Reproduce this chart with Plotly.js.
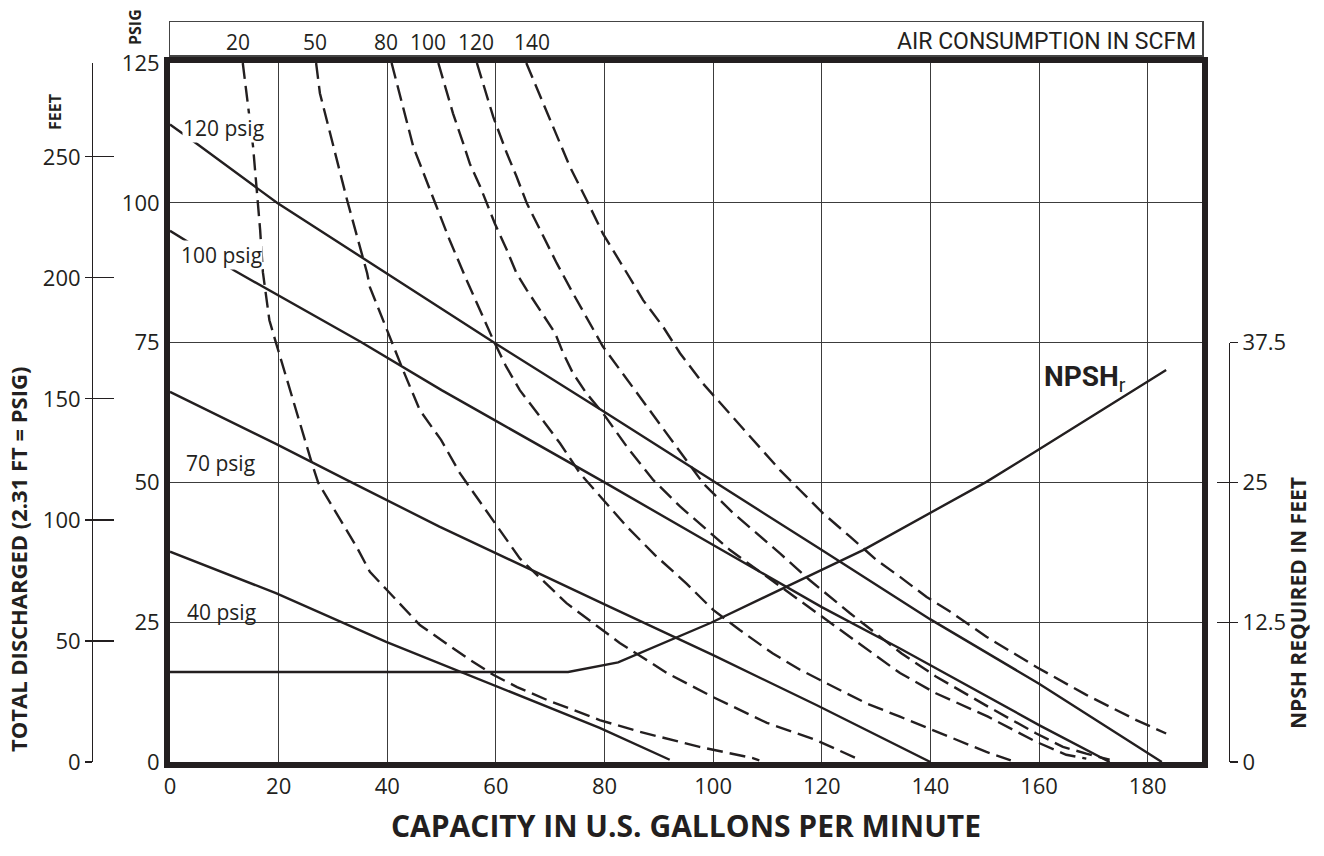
<!DOCTYPE html>
<html>
<head>
<meta charset="utf-8">
<script src="https://cdn.plot.ly/plotly-3.0.1.min.js"></script>
<style>html,body{margin:0;padding:0;background:#fff;}#chart{width:1324px;height:856px;}</style>
</head>
<body>
<div id="chart"></div>
<script>
// ---------- DATA ----------
const xTickVals = [0, 20, 40, 60, 80, 100, 120, 140, 160, 180];
const psigTickVals = [0, 25, 50, 75, 100, 125];
const feetTickVals = [0, 50, 100, 150, 200, 250];
const feetInnerTickVals = [0, 50, 100, 150, 200, 250, 288.75];
const npshTickVals = [0, 12.5, 25, 37.5];
const npshTickText = ['0', '12.5', '25', '37.5'];

// solid head curves (psig)
const psig120X = [0, 5, 19.7, 40, 60, 80, 100, 120, 140, 160, 182.6];
const psig120Y = [114, 110.5, 100, 87.3, 74.8, 62.6, 50.3, 37.9, 25.5, 14, 0];
const psig100X = [0, 12, 35, 50, 60, 80, 100, 120, 134.4, 150, 160, 173];
const psig100Y = [95, 87.8, 75.2, 66.5, 61, 50, 38.8, 27.7, 20.3, 12, 6.6, 0];
const psig70X = [0, 19.5, 32.6, 49.6, 80, 100, 119, 140];
const psig70Y = [66.2, 56.9, 50.4, 42.1, 28.2, 19.1, 10.2, 0];
const psig40X = [0, 19.5, 39.8, 59.6, 79.1, 92];
const psig40Y = [37.6, 30.2, 21.5, 13.8, 6.1, 0.4];

// dashed air consumption curves (SCFM)
const scfm20X = [13.4, 15.3, 16.6, 17.1, 18.3, 19.5, 26.1, 27.3, 34.4, 36.8, 39.9, 46, 54.7, 59.5, 63.9, 69.4, 79.1, 86.5, 97.5, 107.3, 108.5];
const scfm20Y = [125, 110, 95.1, 87.6, 79, 75, 53.5, 49.9, 38.4, 34, 30.8, 24.5, 18.6, 15.6, 13.4, 11.1, 7.5, 5.4, 2.7, 0.7, 0.3];
const scfm50X = [26.9, 27.6, 32.6, 36.3, 36.8, 39.9, 42.9, 46, 49.9, 53.4, 57.7, 60.7, 64.4, 73, 79.1, 82.8, 91.5, 100, 109.9, 119, 127];
const scfm50Y = [125, 119.6, 100.5, 87.4, 84.9, 77.3, 70.1, 62.9, 57.6, 51.6, 45.6, 41.5, 36.4, 28.4, 24, 21.3, 15.9, 11.6, 7, 3.9, 0.4];
const scfm80X = [40.8, 44.8, 48.8, 51.5, 54.6, 57, 59.5, 61.9, 64.4, 68.1, 71.8, 75.5, 79.8, 84.1, 89.3, 95.1, 100, 104.9, 111, 116, 119.6, 128.2, 134.4, 140.5, 150.3, 154.8];
const scfm80Y = [125, 110, 100, 93.3, 86.2, 80.8, 75.5, 70.7, 66.5, 61.8, 57, 51.6, 46.9, 42.1, 37, 31.9, 27.2, 23.6, 19.4, 16.5, 14.7, 10.5, 8.1, 5.7, 1.8, 0.3];
const scfm100X = [49.4, 52.1, 54, 55.2, 57.1, 58.6, 59.8, 62, 63.8, 65.7, 68.1, 70.9, 72.4, 74.2, 76.7, 79.7, 84.1, 89, 93.9, 98.8, 103.1, 134.4, 141, 150.6, 159.5, 165, 168.7];
const scfm100Y = [125, 116, 110.6, 107, 102.9, 99.3, 96.3, 91.6, 87.4, 84.4, 80.8, 76.7, 73.1, 69.5, 65.9, 62.4, 56.4, 50.4, 45.7, 41.5, 37.9, 15.9, 12.3, 8.1, 3.6, 1.3, 0.6];
const scfm120X = [56.5, 59.5, 62, 63.8, 65.7, 68.1, 71.2, 74.2, 77.3, 79.7, 98.2, 103.7, 112.3, 117.8, 125.2, 130.7, 134.7, 141, 150.6, 159.5, 164.4, 168.7, 173];
const scfm120Y = [125, 115.4, 108.9, 104.7, 99.9, 95.1, 89.2, 83.8, 78.4, 74.3, 49.8, 44.5, 37.3, 32.5, 26.6, 22.4, 19.4, 15.3, 9.9, 5.1, 2.7, 1.5, 0.4];
const scfm140X = [65.6, 68.7, 71.2, 73.6, 76.7, 79.7, 83.4, 87.1, 90.8, 93.9, 98.1, 112.3, 116, 120.2, 125.2, 130.1, 134.4, 139.3, 143.6, 150.3, 159.5, 168.7, 177.9, 183.4];
const scfm140Y = [125, 117.8, 111.9, 106.5, 100.5, 94.5, 88.6, 82.6, 77.8, 73.1, 67.7, 52.2, 48.6, 44.5, 40.3, 36.1, 33.1, 29.5, 26.9, 22.4, 17, 12, 7.5, 5.1];

// NPSH required (feet, right axis)
const npshX = [0, 73.3, 82.5, 99.6, 127.6, 139.9, 150.3, 159.8, 183.4];
const npshY = [8.05, 8.05, 8.9, 12.45, 18.95, 22.25, 25.05, 27.9, 35.05];

// labels
const psigLabels = ['120 psig', '100 psig', '70 psig', '40 psig'];
const psigLabelX = [2.3, 1.8, 2.8, 2.9];
const psigLabelY = [113.4, 90.6, 53.5, 26.8];
const psigLabelBg = ['#ffffff', '#ffffff', 'rgba(0,0,0,0)', 'rgba(0,0,0,0)'];
const scfmLabels = ['20', '50', '80', '100', '120', '140'];
const scfmLabelX = [12.5, 26.7, 39.8, 47.5, 56.3, 66.6];

// ---------- CHART ----------
const INK = '#231f20';
const GRID = '#3c3c3c';
const solid = {color: INK, width: 2.4};
const dashed = {color: INK, width: 2.4, dash: '16px,7px'};
function line(x, y, style, xa, ya) {
  return {type: 'scatter', mode: 'lines', x: x, y: y, line: style, xaxis: xa || 'x', yaxis: ya || 'y', hoverinfo: 'skip', showlegend: false};
}
const traces = [
  line(scfm20X, scfm20Y, dashed), line(scfm50X, scfm50Y, dashed), line(scfm80X, scfm80Y, dashed),
  line(scfm100X, scfm100Y, dashed), line(scfm120X, scfm120Y, dashed), line(scfm140X, scfm140Y, dashed),
  line(psig120X, psig120Y, solid), line(psig100X, psig100Y, solid), line(psig70X, psig70Y, solid), line(psig40X, psig40Y, solid),
  line(npshX, npshY, solid, 'x3', 'y4'),
  {type: 'scatter', x: [], y: [], xaxis: 'x3', yaxis: 'y2', showlegend: false},
  {type: 'scatter', x: [], y: [], xaxis: 'x3', yaxis: 'y3', showlegend: false},
  {type: 'scatter', x: [], y: [], xaxis: 'x3', yaxis: 'y5', showlegend: false},
  {type: 'scatter', x: [], y: [], xaxis: 'x2', yaxis: 'y6', showlegend: false}
];

const L = 10, R = 10, T = 20, B = 94, W = 1324, H = 856;
const pw = W - L - R, ph = H - T - B;
const px2fx = p => (p - L) / pw;
const py2fy = p => (H - B - p) / ph;
const xDom = [px2fx(170), px2fx(1202)];
const yTop = py2fy(63);
const tickFont = {family: 'Open Sans', size: 22, color: INK};

const annotations = [];
psigLabels.forEach((t, i) => annotations.push({
  text: t, x: psigLabelX[i], y: psigLabelY[i], xref: 'x', yref: 'y', xanchor: 'left', yanchor: 'middle',
  showarrow: false, bgcolor: psigLabelBg[i], borderpad: 0, font: {family: 'Open Sans', size: 21, color: INK}
}));
scfmLabels.forEach((t, i) => annotations.push({
  text: t, x: scfmLabelX[i], y: 0.4, xref: 'x2', yref: 'y6', xanchor: 'center', yanchor: 'middle',
  showarrow: false, font: {family: 'Open Sans', size: 21, color: INK}
}));
annotations.push({text: 'AIR CONSUMPTION IN SCFM', x: 1, xref: 'x2 domain', y: 0.42, yref: 'y6', xanchor: 'right', yanchor: 'middle', xshift: -4,
  showarrow: false, font: {family: 'Roboto', size: 23, color: INK}});
annotations.push({text: '<b>NPSH</b><sub>r</sub>', x: 160.5, y: 68.5, xref: 'x', yref: 'y', xanchor: 'left', yanchor: 'middle',
  showarrow: false, font: {family: 'Roboto', size: 28, color: INK}});
annotations.push({text: '<b>TOTAL DISCHARGED (2.31 FT = PSIG)</b>', x: px2fx(18), y: py2fy(560), xref: 'paper', yref: 'paper',
  textangle: -90, showarrow: false, xanchor: 'center', yanchor: 'middle', font: {family: 'Open Sans', size: 22, color: INK}});
annotations.push({text: '<b>NPSH REQUIRED IN FEET</b>', x: px2fx(1298), y: py2fy(603), xref: 'paper', yref: 'paper',
  textangle: -90, showarrow: false, xanchor: 'center', yanchor: 'middle', font: {family: 'Open Sans', size: 21, color: INK}});
annotations.push({text: '<b>FEET</b>', x: px2fx(55), y: py2fy(112), xref: 'paper', yref: 'paper',
  textangle: -90, showarrow: false, xanchor: 'center', yanchor: 'middle', font: {family: 'Open Sans', size: 16, color: INK}});
annotations.push({text: '<b>PSIG</b>', x: px2fx(135), y: py2fy(27), xref: 'paper', yref: 'paper',
  textangle: -90, showarrow: false, xanchor: 'center', yanchor: 'middle', font: {family: 'Open Sans', size: 16, color: INK}});

const layout = {
  width: W, height: H,
  margin: {l: L, r: R, t: T, b: B, pad: 0},
  paper_bgcolor: '#ffffff', plot_bgcolor: 'rgba(0,0,0,0)',
  font: {family: 'Open Sans', color: INK},
  showlegend: false,
  xaxis: {domain: xDom, range: [0, 190], tickvals: xTickVals, ticks: '', showgrid: true, gridcolor: GRID, gridwidth: 1,
    zeroline: false, showline: true, linewidth: 6, linecolor: INK, mirror: true, tickfont: tickFont, anchor: 'y',
    title: {text: '<b>CAPACITY IN U.S. GALLONS PER MINUTE</b>', font: {family: 'Open Sans', size: 30, color: INK}, standoff: 19}},
  yaxis: {domain: [0, yTop], range: [0, 125], tickvals: psigTickVals, ticks: '', showgrid: true, gridcolor: GRID, gridwidth: 1,
    zeroline: false, showline: true, linewidth: 6, linecolor: INK, mirror: true, tickfont: tickFont, anchor: 'x'},
  xaxis3: {domain: xDom, range: [0, 190], anchor: 'y4', visible: false, showgrid: false, zeroline: false},
  yaxis2: {domain: [0, yTop], range: [0, 288.75], anchor: 'free', position: px2fx(92), side: 'left',
    tickvals: feetTickVals, ticks: 'outside', ticklen: 7, tickwidth: 1.2, tickcolor: INK,
    showline: true, linewidth: 1.2, linecolor: INK, showgrid: false, zeroline: false, tickfont: tickFont},
  yaxis3: {overlaying: 'y2', range: [0, 288.75], anchor: 'free', position: px2fx(92), side: 'left',
    tickvals: feetInnerTickVals, ticks: 'inside', ticklen: 21, tickwidth: 1.2, tickcolor: INK, showticklabels: false,
    showline: false, showgrid: false, zeroline: false},
  yaxis4: {domain: [0, yTop * 0.6], range: [0, 37.5], anchor: 'free', position: px2fx(1229), side: 'right',
    tickvals: npshTickVals, ticktext: npshTickText, ticks: 'outside', ticklen: 8, tickwidth: 1.2, tickcolor: INK,
    showline: true, linewidth: 1.2, linecolor: INK, showgrid: false, zeroline: false, tickfont: tickFont},
  yaxis5: {overlaying: 'y4', range: [0, 37.5], anchor: 'free', position: px2fx(1229), side: 'right',
    tickvals: npshTickVals, ticks: 'inside', ticklen: 12, tickwidth: 1.2, tickcolor: INK, showticklabels: false,
    showline: false, showgrid: false, zeroline: false},
  xaxis2: {domain: xDom, range: [0, 190], anchor: 'y6', showticklabels: false, ticks: '', showgrid: false, zeroline: false,
    showline: true, mirror: true, linewidth: 1.5, linecolor: '#444444'},
  yaxis6: {domain: [py2fy(55), py2fy(22)], range: [0, 1], anchor: 'x2', showticklabels: false, ticks: '', showgrid: false, zeroline: false,
    showline: true, mirror: true, linewidth: 1.5, linecolor: '#444444'},
  annotations: annotations
};

Plotly.newPlot('chart', traces, layout, {displayModeBar: false, staticPlot: true});
</script>
</body>
</html>
